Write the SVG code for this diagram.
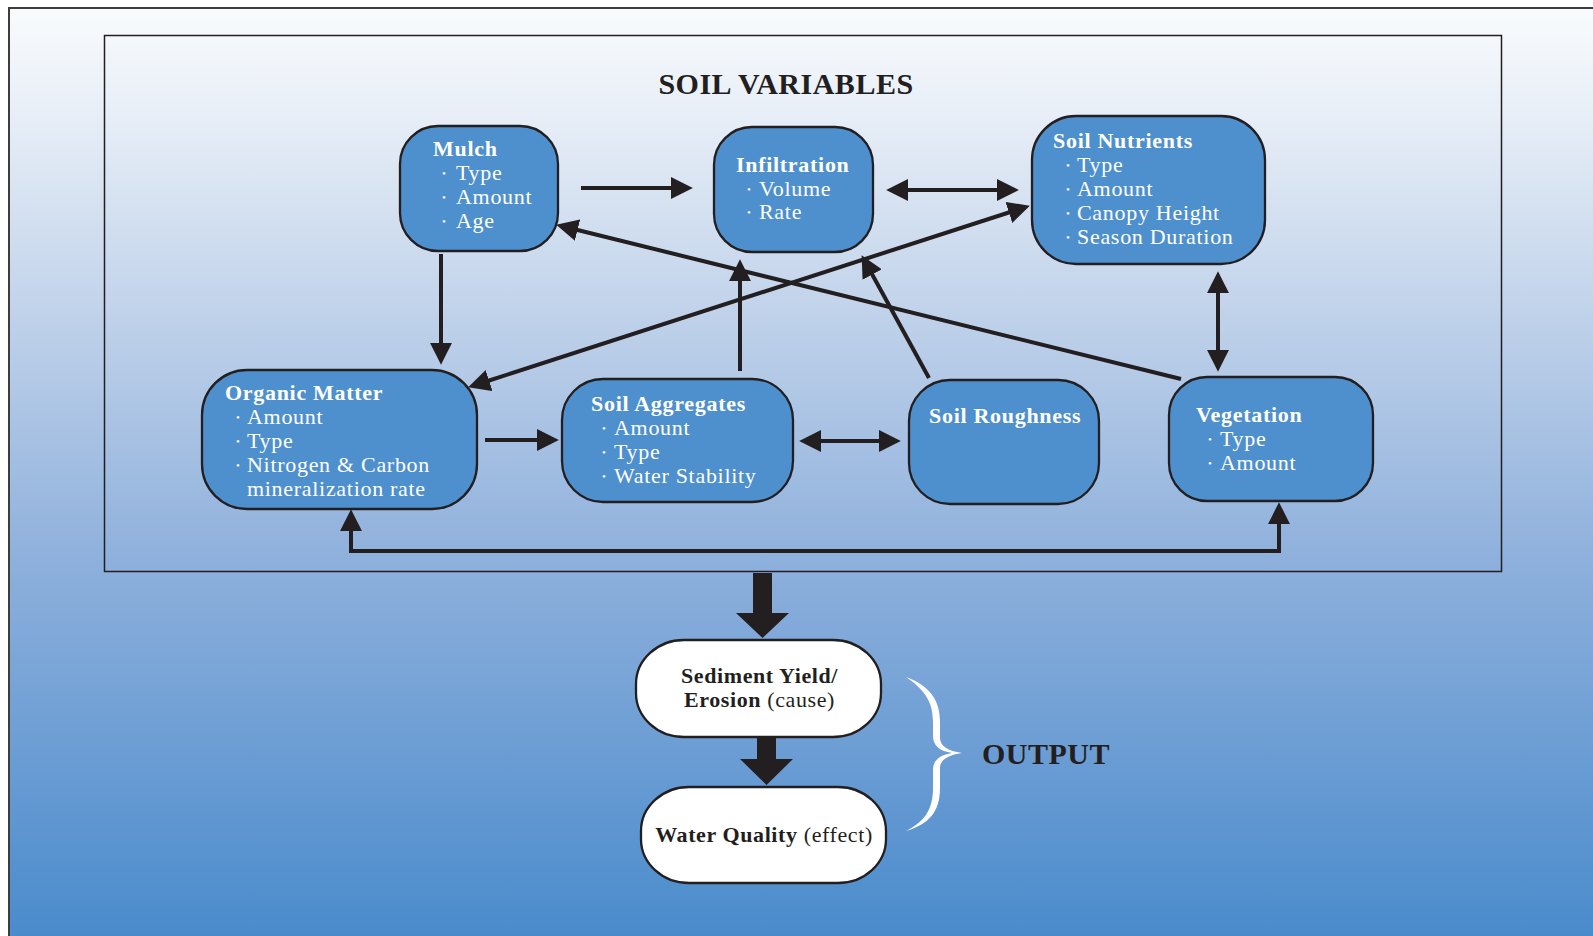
<svg xmlns="http://www.w3.org/2000/svg" width="1593" height="936" viewBox="0 0 1593 936">
<defs>
<linearGradient id="bg" gradientUnits="userSpaceOnUse" x1="0" y1="8" x2="0" y2="936">
<stop offset="0" stop-color="#f9fbfd"/>
<stop offset="0.1" stop-color="#eaf0f8"/>
<stop offset="0.315" stop-color="#c3d4eb"/>
<stop offset="0.595" stop-color="#8eb0dc"/>
<stop offset="1" stop-color="#4a8bcc"/>
</linearGradient>
<marker id="ah" markerUnits="userSpaceOnUse" markerWidth="22" markerHeight="22" viewBox="0 0 21 21" refX="3" refY="10.5" orient="auto-start-reverse">
<path d="M0,0 L21,10.5 L0,21 z" fill="#231f20"/>
</marker>
</defs>
<style>
.node{fill:#4e8fcd;stroke:#231f20;stroke-width:2.3}
.out{fill:#ffffff;stroke:#231f20;stroke-width:2.3}
.t{font-family:"Liberation Serif",serif;font-size:22px;fill:#ffffff;letter-spacing:0.7px}
.b{font-weight:bold}
.dot{font-size:11px}
.ot{font-family:"Liberation Serif",serif;font-size:22px;fill:#231f20;letter-spacing:0.6px}
.hd{font-family:"Liberation Serif",serif;font-size:30px;font-weight:bold;fill:#231f20;letter-spacing:0.5px}
.c{fill:none;stroke:#231f20;stroke-width:4}
.big{fill:#231f20}
</style>
<rect x="0" y="0" width="1593" height="936" fill="#ffffff"/>
<rect x="9" y="8" width="1620" height="1000" fill="url(#bg)" stroke="#3d3d3d" stroke-width="2"/>
<rect x="104.5" y="35.5" width="1397" height="536" fill="none" stroke="#231f20" stroke-width="1.5"/>
<text class="hd" x="786" y="94" text-anchor="middle">SOIL VARIABLES</text>

<g id="connectors">
<line class="c" x1="581" y1="188" x2="674" y2="188" marker-end="url(#ah)"/>
<line class="c" x1="905" y1="190" x2="1000" y2="190" marker-start="url(#ah)" marker-end="url(#ah)"/>
<line class="c" x1="441" y1="254" x2="441" y2="346" marker-end="url(#ah)"/>
<line class="c" x1="486.1" y1="381.5" x2="1011.9" y2="211.5" marker-start="url(#ah)" marker-end="url(#ah)"/>
<line class="c" x1="1181" y1="379" x2="574.5" y2="229.3" marker-end="url(#ah)"/>
<line class="c" x1="740" y1="371" x2="740" y2="278" marker-end="url(#ah)"/>
<line class="c" x1="929" y1="378" x2="870.7" y2="271.8" marker-end="url(#ah)"/>
<line class="c" x1="485" y1="440" x2="540" y2="440" marker-end="url(#ah)"/>
<line class="c" x1="818" y1="441" x2="882" y2="441" marker-start="url(#ah)" marker-end="url(#ah)"/>
<line class="c" x1="1218" y1="290" x2="1218" y2="353" marker-start="url(#ah)" marker-end="url(#ah)"/>
<path class="c" d="M351,528 L351,551 L1279,551 L1279,521" marker-start="url(#ah)" marker-end="url(#ah)"/>
<polygon class="big" points="753,573 772,573 772,613 789,613 762.5,638 736,613 753,613"/>
<polygon class="big" points="757,737 776,737 776,759 793,759 766.5,785 740,759 757,759"/>
</g>

<g id="mulch">
<rect class="node" x="400" y="126" width="158" height="125" rx="38" ry="38"/>
<text class="t b" x="433" y="156">Mulch</text>
<text class="t" y="180"><tspan class="dot" x="442" dy="-3">•</tspan><tspan x="456" dy="3">Type</tspan></text>
<text class="t" y="204"><tspan class="dot" x="442" dy="-3">•</tspan><tspan x="456" dy="3">Amount</tspan></text>
<text class="t" y="228"><tspan class="dot" x="442" dy="-3">•</tspan><tspan x="456" dy="3">Age</tspan></text>
</g>

<g id="infiltration">
<rect class="node" x="714" y="127" width="159" height="125" rx="38" ry="38"/>
<text class="t b" x="736" y="172">Infiltration</text>
<text class="t" y="196"><tspan class="dot" x="747" dy="-3">•</tspan><tspan x="759" dy="3">Volume</tspan></text>
<text class="t" y="219"><tspan class="dot" x="747" dy="-3">•</tspan><tspan x="759" dy="3">Rate</tspan></text>
</g>

<g id="soil-nutrients">
<rect class="node" x="1032" y="116" width="233" height="148" rx="44" ry="44"/>
<text class="t b" x="1053" y="148">Soil Nutrients</text>
<text class="t" y="172"><tspan class="dot" x="1066" dy="-3">•</tspan><tspan x="1077" dy="3">Type</tspan></text>
<text class="t" y="196"><tspan class="dot" x="1066" dy="-3">•</tspan><tspan x="1077" dy="3">Amount</tspan></text>
<text class="t" y="220"><tspan class="dot" x="1066" dy="-3">•</tspan><tspan x="1077" dy="3">Canopy Height</tspan></text>
<text class="t" y="244"><tspan class="dot" x="1066" dy="-3">•</tspan><tspan x="1077" dy="3">Season Duration</tspan></text>
</g>

<g id="organic-matter">
<rect class="node" x="202" y="370" width="275" height="139" rx="45" ry="45"/>
<text class="t b" x="225" y="400">Organic Matter</text>
<text class="t" y="424"><tspan class="dot" x="236" dy="-3">•</tspan><tspan x="247" dy="3">Amount</tspan></text>
<text class="t" y="448"><tspan class="dot" x="236" dy="-3">•</tspan><tspan x="247" dy="3">Type</tspan></text>
<text class="t" y="472"><tspan class="dot" x="236" dy="-3">•</tspan><tspan x="247" dy="3">Nitrogen &amp; Carbon</tspan></text>
<text class="t" x="247" y="496">mineralization rate</text>
</g>

<g id="soil-aggregates">
<rect class="node" x="562" y="379" width="231" height="123" rx="41" ry="41"/>
<text class="t b" x="591" y="411">Soil Aggregates</text>
<text class="t" y="435"><tspan class="dot" x="602" dy="-3">•</tspan><tspan x="614" dy="3">Amount</tspan></text>
<text class="t" y="459"><tspan class="dot" x="602" dy="-3">•</tspan><tspan x="614" dy="3">Type</tspan></text>
<text class="t" y="483"><tspan class="dot" x="602" dy="-3">•</tspan><tspan x="614" dy="3">Water Stability</tspan></text>
</g>

<g id="soil-roughness">
<rect class="node" x="909" y="380" width="190" height="124" rx="41" ry="41"/>
<text class="t b" x="929" y="423">Soil Roughness</text>
</g>

<g id="vegetation">
<rect class="node" x="1169" y="377" width="204" height="124" rx="38" ry="38"/>
<text class="t b" x="1196" y="422">Vegetation</text>
<text class="t" y="446"><tspan class="dot" x="1208" dy="-3">•</tspan><tspan x="1220" dy="3">Type</tspan></text>
<text class="t" y="470"><tspan class="dot" x="1208" dy="-3">•</tspan><tspan x="1220" dy="3">Amount</tspan></text>
</g>

<g id="sediment-yield">
<rect class="out" x="636" y="640" width="245" height="97" rx="48" ry="44"/>
<text class="ot b" x="759.5" y="683" text-anchor="middle">Sediment Yield/</text>
<text class="ot" x="759.5" y="707" text-anchor="middle"><tspan class="b">Erosion</tspan> (cause)</text>
</g>

<g id="water-quality">
<rect class="out" x="641" y="787" width="245" height="96" rx="48" ry="44"/>
<text class="ot" x="764" y="842" text-anchor="middle"><tspan class="b">Water Quality</tspan> (effect)</text>
</g>

<g id="output">
<path d="M906,677 C930,686 940,700 940,722 L940,738 C940,746 948,751 962,753 C948,755 940,760 940,768 L940,788 C940,812 929,824 906,831 C924,822 933,810 933,788 L933,770 C933,760 940,755 952,753 C940,751 933,746 933,736 L933,722 C933,702 925,690 906,677 Z" fill="#ffffff"/>
<text class="hd" x="982" y="764">OUTPUT</text>
</g>
</svg>
